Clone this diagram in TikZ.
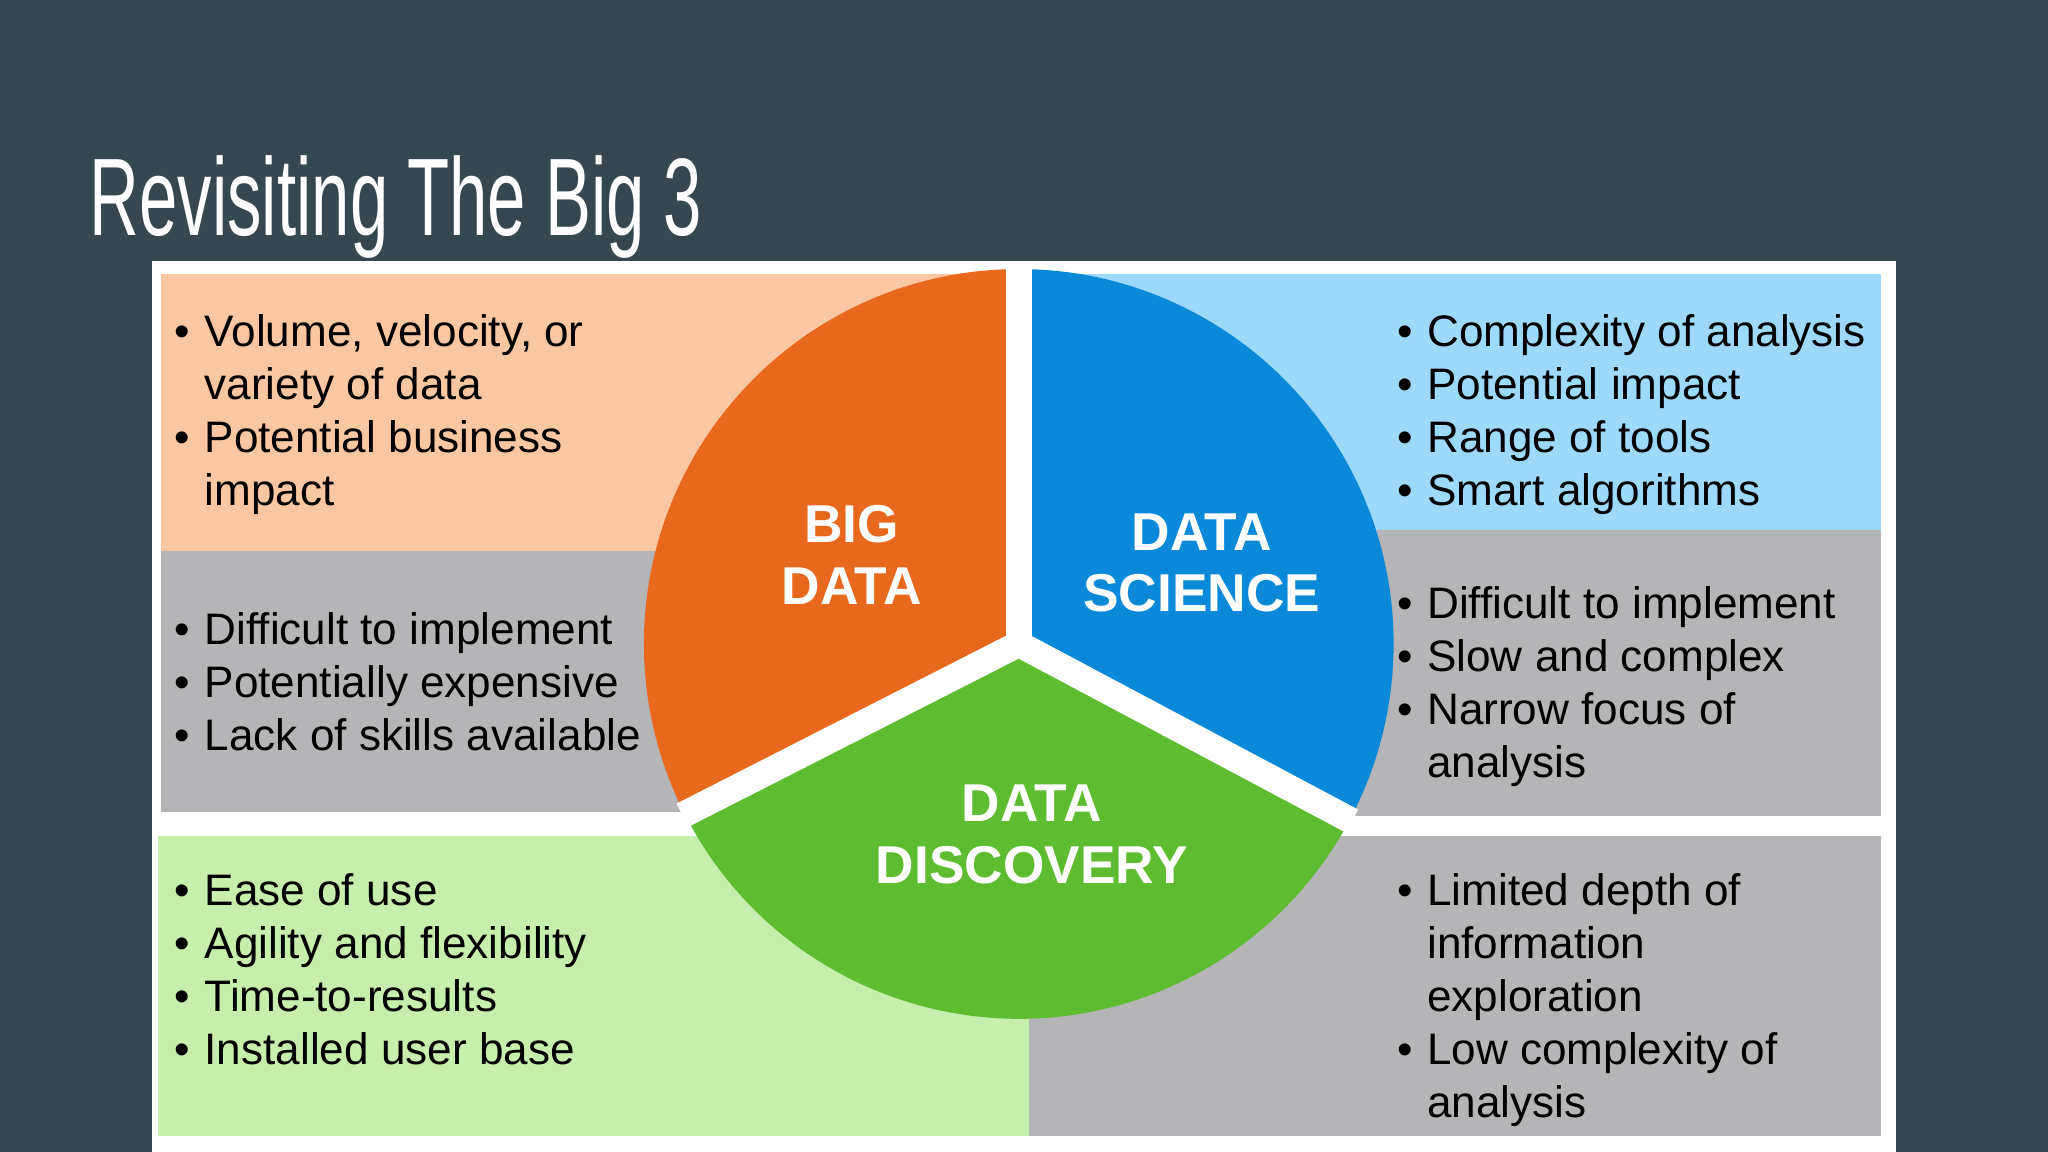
\documentclass[tikz,border=0pt]{standalone}
\usepackage{fontspec}
\setmainfont{Liberation Sans}
\usepackage{array}
\definecolor{bg}{HTML}{36474F}
\definecolor{lorange}{HTML}{FBC6A2}
\definecolor{lgray}{HTML}{B5B4B6}
\definecolor{lblue}{HTML}{9DD9FB}
\definecolor{lgreen}{HTML}{C6EEAC}
\definecolor{corange}{HTML}{E8681E}
\definecolor{cblue}{HTML}{0B89D9}
\definecolor{cgreen}{HTML}{5EBC30}
\newcommand{\bl}{\makebox[0.23cm][l]{•}}
\begin{document}
\begin{tikzpicture}[x=0.01cm,y=-0.01cm,
  txt/.style={anchor=north west,inner sep=0pt,align=left,font=\fontsize{9.6pt}{11.55pt}\selectfont,text=black},
  lab/.style={align=center,text=white,inner sep=0pt,font=\fontsize{11.6pt}{13.4pt}\selectfont\bfseries}]
\fill[bg] (0,0) rectangle (1568,882);
\useasboundingbox (0,0) rectangle (1568,882);
\node[anchor=base west,inner sep=0pt,text=white,font=\fontsize{24pt}{28pt}\selectfont] (title) at (68,180) {\scalebox{0.625}[1]{Revisiting The Big 3}};
\fill[white] (116,200) rectangle (1452,882);
\fill[lorange] (123,210) rectangle (775,422);
\fill[lgray] (123,422) rectangle (540,622);
\fill[lblue] (785,210) rectangle (1440,406);
\fill[lgray] (1000,406) rectangle (1440,625);
\fill[lgreen] (121,640) rectangle (788,870);
\fill[lgray] (788,640) rectangle (1440,870);
\coordinate (c) at (780,493);
\fill[corange] (c) -- ++(0,-287) arc[start angle=-90,end angle=-207,radius=287] -- cycle;
\fill[cblue] (c) -- ++(0,-287) arc[start angle=-90,end angle=28,radius=287] -- cycle;
\fill[cgreen] (c) -- ++(153:287) arc[start angle=153,end angle=28,radius=287] -- cycle;
\draw[white,line width=0.2cm] (c) -- ++(0,-287);
\draw[white,line width=0.2cm] (c) -- ++(153:289);
\draw[white,line width=0.2cm] (c) -- ++(28:289);
\node[lab] (bd) at (652,425) {BIG\\DATA};
\node[lab] (ds) at (920,431) {DATA\\SCIENCE};
\node[lab] (dd) at (790,639) {DATA\\DISCOVERY};
\node[txt] (t1) at (133,240) {\bl Volume, velocity, or\\\hspace{0.23cm}variety of data\\\bl Potential business\\\hspace{0.23cm}impact};
\node[txt] (t2) at (133,468) {\bl Difficult to implement\\\bl Potentially expensive\\\bl Lack of skills available};
\node[txt] (t3) at (1069,240) {\bl Complexity of analysis\\\bl Potential impact\\\bl Range of tools\\\bl Smart algorithms};
\node[txt] (t4) at (1069,448) {\bl Difficult to implement\\\bl Slow and complex\\\bl Narrow focus of\\\hspace{0.23cm}analysis};
\node[txt] (t5) at (133,668) {\bl Ease of use\\\bl Agility and flexibility\\\bl Time-to-results\\\bl Installed user base};
\node[txt] (t6) at (1069,668) {\bl Limited depth of\\\hspace{0.23cm}information\\\hspace{0.23cm}exploration\\\bl Low complexity of\\\hspace{0.23cm}analysis};
\end{tikzpicture}
\end{document}
